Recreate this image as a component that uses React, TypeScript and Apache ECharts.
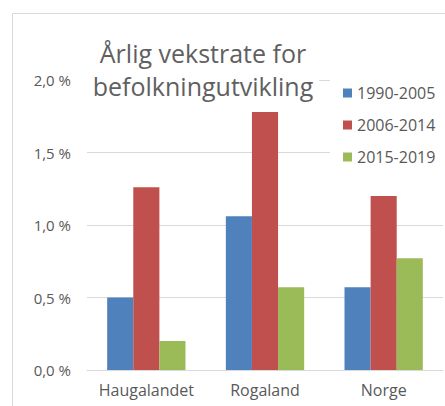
import React, { useEffect, useRef } from "react";
import * as echarts from "echarts";

const categories = ["Haugalandet", "Rogaland", "Norge"];
const seriesNames = ["1990-2005", "2006-2014", "2015-2019"];
const values1990_2005 = [0.5, 1.06, 0.57];
const values2006_2014 = [1.26, 1.78, 1.2];
const values2015_2019 = [0.2, 0.57, 0.77];
const colors = ["#4F81BD", "#C0504D", "#9BBB59"];
const titleLines = ["Årlig vekstrate for", "befolkningutvikling"];

const FONT = "'Open Sans', 'Noto Sans', sans-serif";
const TEXT = "#595959";

export default function App() {
  const ref = useRef<HTMLDivElement>(null);
  useEffect(() => {
    if (!ref.current) return;
    const chart = echarts.init(ref.current, undefined, { renderer: "svg" });
    const seriesData = [values1990_2005, values2006_2014, values2015_2019];
    chart.setOption({
      animation: false,
      backgroundColor: "#ffffff",
      color: colors,
      textStyle: { fontFamily: FONT },
      graphic: [
        {
          type: "rect",
          shape: { x: 12.5, y: 13.5, width: 600, height: 600 },
          style: { fill: "none", stroke: "#D9D9D9", lineWidth: 1 },
          z: -1,
        },
      ],
      title: {
        text: titleLines.join("\n"),
        left: 197,
        top: 36,
        textAlign: "center",
        padding: [0, 6],
        backgroundColor: "#ffffff",
        textStyle: {
          fontFamily: FONT,
          fontSize: 25,
          lineHeight: 33,
          fontWeight: "normal",
          color: "#606060",
        },
      },
      legend: {
        data: seriesNames,
        orient: "vertical",
        left: 330,
        top: 80,
        padding: [5, 10, 5, 13],
        backgroundColor: "#ffffff",
        itemWidth: 9,
        itemHeight: 9,
        itemGap: 16,
        icon: "rect",
        textStyle: { fontFamily: FONT, fontSize: 16, lineHeight: 16, color: TEXT },
      },
      grid: { left: 87, right: 2, top: 80, bottom: 36 },
      xAxis: {
        type: "category",
        data: categories,
        axisLine: { lineStyle: { color: "#D9D9D9" } },
        axisTick: { show: false },
        axisLabel: { interval: 0, fontFamily: FONT, fontSize: 16, color: TEXT, margin: 12 },
      },
      yAxis: {
        type: "value",
        min: 0,
        max: 2,
        interval: 0.5,
        axisLine: { show: false },
        axisTick: { show: false },
        splitLine: { lineStyle: { color: "#D9D9D9" } },
        axisLabel: {
          fontFamily: FONT,
          fontSize: 15,
          color: TEXT,
          margin: 16,
          formatter: (v: number) => v.toFixed(1).replace(".", ",") + " %",
        },
      },
      series: seriesNames.map((name, i) => ({
        name,
        type: "bar",
        data: seriesData[i],
        barGap: "0%",
        barCategoryGap: "34%",
        itemStyle: { color: colors[i] },
      })),
    });
    return () => chart.dispose();
  }, []);
  return (
    <div
      ref={ref}
      style={{ position: "fixed", left: 0, top: 0, width: 445, height: 406 }}
    />
  );
}
